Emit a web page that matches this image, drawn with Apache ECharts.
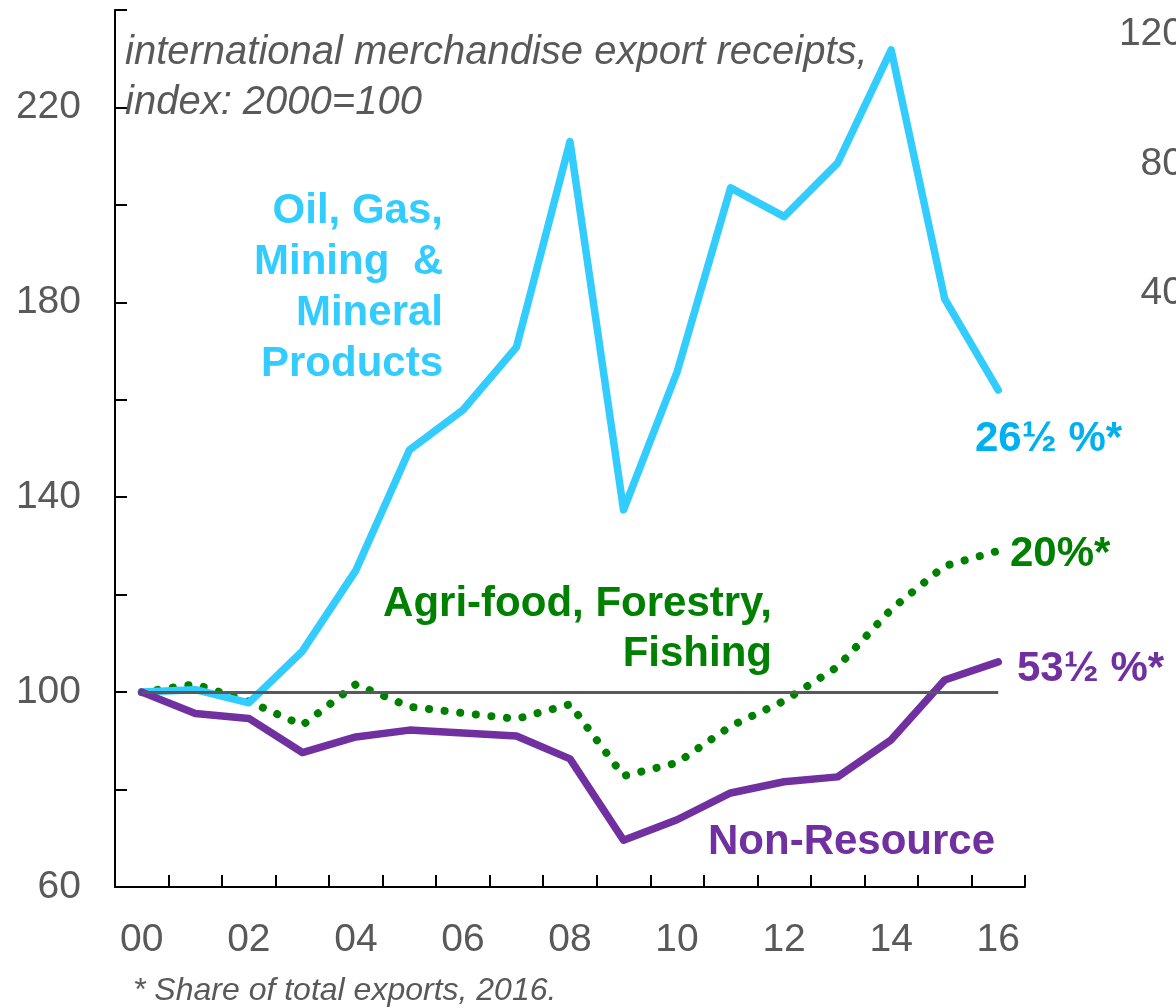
<!DOCTYPE html>
<html>
<head>
<meta charset="utf-8">
<title>Merchandise export receipts</title>
<script src="https://cdn.jsdelivr.net/npm/echarts@6/dist/echarts.min.js"></script>
<style>
  html, body { margin: 0; padding: 0; background: #fff; }
  #main { width: 1176px; height: 1008px; }
</style>
</head>
<body>
<div id="main"></div>
<script>
  // years on the x axis (2000 - 2016)
  var years = ['00', '01', '02', '03', '04', '05', '06', '07', '08', '09', '10', '11', '12', '13', '14', '15', '16']
  // index values, 2000 = 100
  var oilGasMining = [100, 100.5, 97.8, 108.4, 125, 149.7, 157.9, 170.8, 213, 137.4, 165.7, 203.5, 197.6, 208.6, 231.8, 180.7, 162]
  var agriFood = [100, 101.6, 98.1, 93.2, 101.6, 97, 95.7, 94.5, 97.5, 82.8, 85.5, 93, 98.2, 105.2, 117, 125.9, 129]
  var nonResource = [100, 95.6, 94.6, 87.6, 90.8, 92.2, 91.6, 91, 86.3, 69.6, 73.8, 79.3, 81.6, 82.6, 90.2, 102.5, 106.2]
  // labels of the neighbouring panel, cut off at the right edge
  var sideTicks = ['120', '80', '40']

  var grey = '#595959'
  var font = '"Liberation Sans", Arial, sans-serif'

  function label(text, x, y, color, opts) {
    opts = opts || {}
    return {
      type: 'text',
      x: x,
      y: y,
      silent: true,
      z: 10,
      style: {
        text: text,
        fill: color,
        font: (opts.italic ? 'italic ' : '') + (opts.bold ? 'bold ' : '') + (opts.size || 42) + 'px ' + font,
        textAlign: opts.align || 'left',
        textVerticalAlign: 'middle',
        lineHeight: opts.lineHeight || 50
      }
    }
  }

  var chart = echarts.init(document.getElementById('main'))
  var option = {
    animation: false,
    grid: { left: 115, right: 151, top: 10, bottom: 121, containLabel: false },
    xAxis: {
      type: 'category',
      data: years,
      boundaryGap: true,
      axisLine: { show: true, lineStyle: { color: '#000', width: 2 } },
      axisTick: { show: true, inside: true, length: 12, interval: 0, lineStyle: { color: '#000', width: 2 } },
      axisLabel: { interval: 1, color: grey, fontSize: 39, fontFamily: font, margin: 34 }
    },
    yAxis: {
      type: 'value',
      min: 60,
      max: 240,
      interval: 20,
      splitLine: { show: false },
      axisLine: { show: true, lineStyle: { color: '#000', width: 2 } },
      axisTick: { show: true, inside: true, length: 12, lineStyle: { color: '#000', width: 2 } },
      axisLabel: {
        color: grey, fontSize: 39, fontFamily: font, margin: 34,
        formatter: function (v) { return (v - 60) % 40 === 0 && v < 240 ? v : '' }
      }
    },
    series: [
      {
        name: 'Agri-food, Forestry, Fishing',
        type: 'line',
        data: agriFood,
        symbol: 'none',
        lineStyle: { color: '#008000', width: 8, type: [0.1, 15.6], cap: 'round' },
        z: 2
      },
      {
        name: 'Oil, Gas, Mining & Mineral Products',
        type: 'line',
        data: oilGasMining,
        symbol: 'none',
        lineStyle: { color: '#33CCFF', width: 7.5, cap: 'round', join: 'round' },
        z: 3,
        markLine: {
          silent: true,
          symbol: 'none',
          label: { show: false },
          lineStyle: { color: grey, width: 3, type: 'solid' },
          data: [[{ coord: ['00', 100] }, { coord: ['16', 100] }]]
        }
      },
      {
        name: 'Non-Resource',
        type: 'line',
        data: nonResource,
        symbol: 'none',
        lineStyle: { color: '#7030A0', width: 7.5, cap: 'round', join: 'round' },
        z: 4
      }
    ],
    graphic: [
      label('international merchandise export receipts,\nindex: 2000=100', 125, 78, grey, { italic: true, size: 40, lineHeight: 50 }),
      label('Oil, Gas,\nMining  &\nMineral\nProducts', 443, 288, '#33CCFF', { bold: true, align: 'right', lineHeight: 51 }),
      label('26\u00bd %*', 975, 439, '#00B0F0', { bold: true }),
      label('Agri-food, Forestry,\nFishing', 772, 629, '#008000', { bold: true, align: 'right', lineHeight: 50 }),
      label('20%*', 1010, 554, '#008000', { bold: true }),
      label('53\u00bd %*', 1017, 669, '#7030A0', { bold: true }),
      label('Non-Resource', 708, 842, '#7030A0', { bold: true }),
      label('* Share of total exports, 2016.', 133, 991, grey, { italic: true, size: 32 }),
      label(sideTicks[0], 1184, 34, grey, { size: 39, align: 'right' }),
      label(sideTicks[1], 1184, 164, grey, { size: 39, align: 'right' }),
      label(sideTicks[2], 1184, 293, grey, { size: 39, align: 'right' })
    ]
  }
  chart.setOption(option)
  window.addEventListener('resize', function () {
    chart.resize()
  })
</script>
</body>
</html>
